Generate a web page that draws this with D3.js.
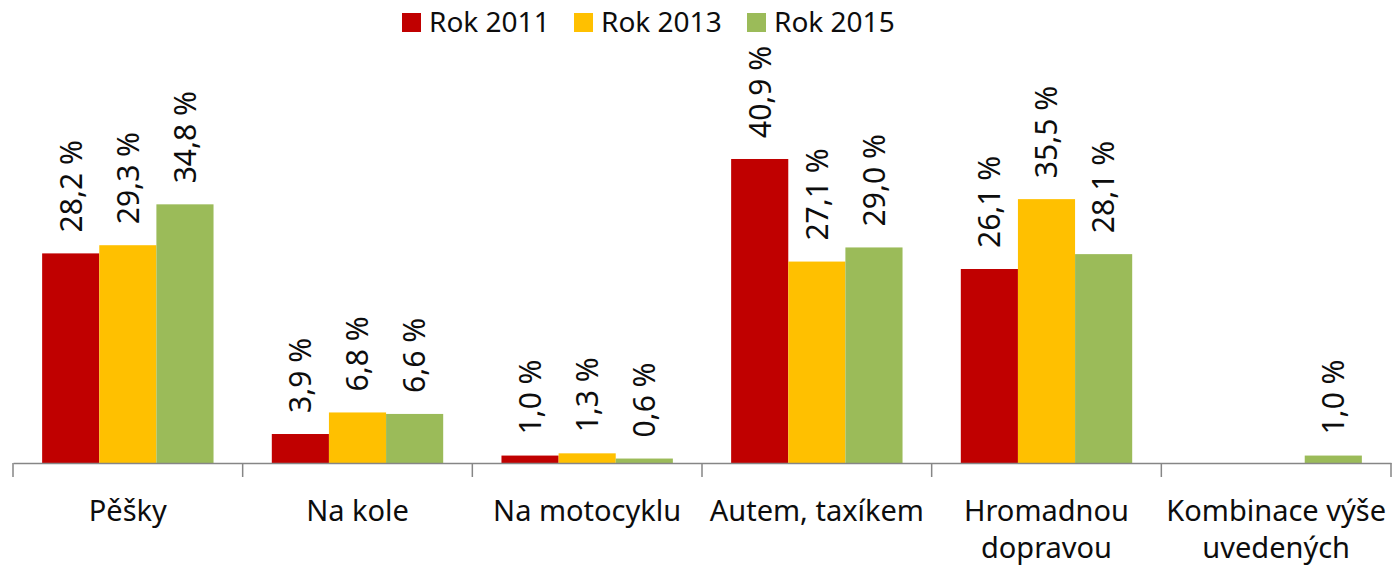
<!DOCTYPE html>
<html>
<head>
<meta charset="utf-8">
<script src="https://cdn.jsdelivr.net/npm/d3@7"></script>
<style>
  body { margin: 0; background: #fff; }
  text { font-family: "Noto Sans", "Open Sans", sans-serif; fill: #0d0d0d; }
</style>
</head>
<body>
<div id="chart"></div>
<script>
// categories (lines split where the original wraps)
const categories = ["Pěšky", "Na kole", "Na motocyklu", "Autem, taxíkem", "Hromadnou\ndopravou", "Kombinace výše\nuvedených"];
const seriesNames = ["Rok 2011", "Rok 2013", "Rok 2015"];
const seriesColors = ["#C00000", "#FFC000", "#9BBB59"];

const rok2011 = [28.2, 3.9, 1.0, 40.9, 26.1, null];
const rok2013 = [29.3, 6.8, 1.3, 27.1, 35.5, null];
const rok2015 = [34.8, 6.6, 0.6, 29.0, 28.1, 1.0];
const allSeries = [rok2011, rok2013, rok2015];

const W = 1393, H = 566;
const AXIS_Y = 463;

const svg = d3.select("#chart").append("svg")
    .attr("width", W)
    .attr("height", H);

const x0 = d3.scaleBand()
    .domain(categories)
    .range([13, 1391])
    .padding(0);

const x1 = d3.scaleBand()
    .domain(seriesNames)
    .range([0, x0.bandwidth()])
    .paddingInner(0)
    .paddingOuter(0.51);

const y = d3.scaleLinear()
    .domain([0, 45])
    .range([AXIS_Y, AXIS_Y - 45 * 7.433]);

const fmt = v => v.toFixed(1).replace(".", ",") + " %";

// bars + rotated labels
const groups = svg.selectAll("g.cat")
    .data(categories)
    .join("g")
    .attr("class", "cat")
    .attr("transform", d => `translate(${x0(d)},0)`);

groups.each(function(cat, ci) {
  const g = d3.select(this);
  seriesNames.forEach((s, si) => {
    const v = allSeries[si][ci];
    if (v == null) return;
    g.append("rect")
        .attr("x", x1(s))
        .attr("y", y(v))
        .attr("width", x1.bandwidth())
        .attr("height", AXIS_Y - y(v))
        .style("fill", seriesColors[si]);
    g.append("text")
        .attr("transform", `translate(${x1(s) + x1.bandwidth() / 2},${y(v) - 21}) rotate(-90)`)
        .attr("dy", "0.36em")
        .attr("text-anchor", "start")
        .style("font-size", "30px")
        .text(fmt(v));
  });
});

// x axis
const axis = d3.axisBottom(x0).tickSize(0).tickFormat("");
const ax = svg.append("g")
    .attr("transform", `translate(0,${AXIS_Y})`)
    .call(axis);
ax.select(".domain").attr("stroke", "#868686").attr("stroke-width", 1.5);

const bounds = categories.map(c => x0(c)).concat([x0.range()[1]]);
ax.selectAll("line.sep")
    .data(bounds)
    .join("line")
    .attr("class", "sep")
    .attr("x1", d => d).attr("x2", d => d)
    .attr("y1", 0).attr("y2", 14)
    .attr("stroke", "#868686")
    .attr("stroke-width", 1.5);

// category labels
svg.selectAll("text.cat-label")
    .data(categories)
    .join("text")
    .attr("class", "cat-label")
    .attr("text-anchor", "middle")
    .style("font-size", "29px")
    .each(function(d) {
      const t = d3.select(this);
      d.split("\n").forEach((line, i) => {
        t.append("tspan")
            .attr("x", x0(d) + x0.bandwidth() / 2)
            .attr("y", 521 + i * 37)
            .text(line);
      });
    });

// legend
const legendX = [402, 574, 747];
const legend = svg.append("g");
seriesNames.forEach((s, i) => {
  legend.append("rect")
      .attr("x", legendX[i])
      .attr("y", 13)
      .attr("width", 19)
      .attr("height", 19)
      .style("fill", seriesColors[i]);
  legend.append("text")
      .attr("x", legendX[i] + 27)
      .attr("y", 32)
      .style("font-size", "28px")
      .text(s);
});
</script>
</body>
</html>
